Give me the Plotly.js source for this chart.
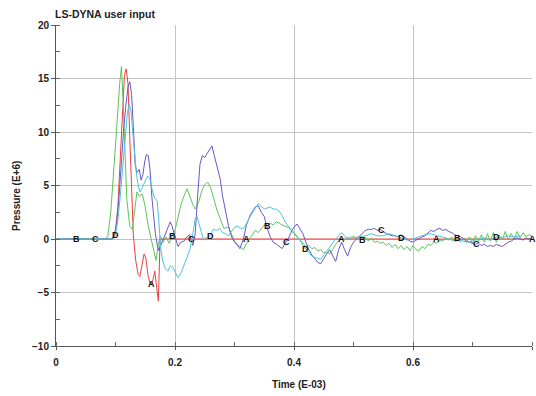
<!DOCTYPE html>
<html>
<head>
<meta charset="utf-8">
<script src="https://cdn.plot.ly/plotly-3.0.1.min.js"></script>
<style>html,body{margin:0;padding:0;background:#fff;}#chart{width:536px;height:396px;}</style>
</head>
<body>
<div id="chart"></div>
<script>
// Curve A (red)
const timeA = [0, 0.095, 0.1, 0.104, 0.108, 0.112, 0.115, 0.118, 0.121, 0.124, 0.127, 0.13, 0.134, 0.138, 0.141, 0.145, 0.148, 0.151, 0.155, 0.159, 0.163, 0.166, 0.169, 0.172, 0.175, 0.8];
const pressureA = [0, 0, 0.8, 3, 7.5, 12.5, 15.3, 15.9, 14.5, 9.5, 4, 0.3, -2.0, -3.3, -3.5, -2.2, -1.4, -1.8, -3.5, -4.3, -3.8, -3.0, -4.5, -5.8, 0, 0];

// Curve B (green)
const timeB = [0, 0.082, 0.087, 0.092, 0.096, 0.1, 0.104, 0.107, 0.11, 0.113, 0.116, 0.119, 0.124, 0.128, 0.132, 0.136, 0.14, 0.145, 0.15, 0.155, 0.16, 0.165, 0.168, 0.171, 0.175, 0.18, 0.185, 0.19, 0.195, 0.2, 0.205, 0.21, 0.215, 0.22, 0.225, 0.23, 0.234, 0.24, 0.245, 0.25, 0.255, 0.26, 0.265, 0.27, 0.276, 0.282, 0.29, 0.295, 0.3, 0.305, 0.31, 0.315, 0.32, 0.325, 0.33, 0.335, 0.34, 0.345, 0.35, 0.355, 0.36, 0.365, 0.37, 0.375, 0.38, 0.385, 0.39, 0.395, 0.4, 0.405, 0.41, 0.415, 0.42, 0.425, 0.43, 0.435, 0.44, 0.445, 0.45, 0.455, 0.46, 0.465, 0.47, 0.475, 0.48, 0.485, 0.49, 0.495, 0.5, 0.505, 0.51, 0.515, 0.52, 0.525, 0.53, 0.535, 0.54, 0.545, 0.55, 0.555, 0.56, 0.565, 0.57, 0.575, 0.58, 0.585, 0.59, 0.595, 0.6, 0.605, 0.61, 0.615, 0.62, 0.625, 0.63, 0.635, 0.64, 0.645, 0.65, 0.655, 0.66, 0.665, 0.67, 0.675, 0.68, 0.685, 0.69, 0.695, 0.7, 0.705, 0.71, 0.715, 0.72, 0.725, 0.73, 0.735, 0.74, 0.745, 0.75, 0.755, 0.76, 0.765, 0.77, 0.775, 0.78, 0.785, 0.79, 0.795, 0.8];
const pressureB = [0, 0, 0.2, 2.5, 5.6, 8.5, 12, 14.5, 16.1, 12.6, 7.9, 3.7, 1.2, 0.9, 2.5, 4.4, 4.0, 4.2, 3.0, 1.2, 0.0, -1.2, -2.0, -0.8, 0.3, -0.3, 0.2, -0.4, 0.3, 0.8, 2.0, 3.2, 4.0, 4.7, 4.0, 3.2, 2.8, 3.5, 4.5, 5.1, 5.3, 4.8, 3.8, 2.8, 1.9, 1.0, 1.1, 0.4, -0.2, -0.5, -0.8, -1.0, -0.4, 0.0, 0.5, 0.8, 0.6, 1.0, 1.3, 1.2, 1.5, 1.3, 1.6, 1.5, 1.3, 1.2, 1.1, 0.8, 0.5, 0.2, -0.2, -0.5, -0.7, -0.6, -0.9, -0.8, -1.1, -1.0, -1.3, -1.2, -1.4, -1.0, -0.5, -0.2, 0.1, -0.1, 0.2, -0.1, 0.3, 0.0, 0.2, -0.1, 0.2, -0.2, 0.1, -0.3, -0.2, -0.4, -0.3, -0.6, -0.4, -0.8, -0.5, -0.9, -0.6, -1.0, -0.7, -1.1, -0.6, -1.0, -1.1, -0.7, -0.9, -0.5, -0.6, -0.3, -0.4, -0.1, -0.2, 0.1, -0.1, 0.2, -0.2, 0.1, -0.3, 0.1, -0.3, 0.2, -0.4, 0.3, -0.2, 0.4, -0.3, 0.5, -0.2, 0.6, -0.3, 0.4, -0.1, 0.7, -0.1, 0.5, 0.0, 0.7, 0.1, 0.6, 0.2, 0.4, 0.3];

// Curve C (blue-violet)
const timeC = [0, 0.094, 0.098, 0.102, 0.106, 0.11, 0.114, 0.118, 0.121, 0.124, 0.127, 0.13, 0.133, 0.136, 0.14, 0.143, 0.146, 0.149, 0.152, 0.155, 0.158, 0.161, 0.164, 0.167, 0.17, 0.173, 0.176, 0.18, 0.184, 0.188, 0.192, 0.195, 0.2, 0.205, 0.21, 0.215, 0.22, 0.225, 0.23, 0.234, 0.238, 0.242, 0.246, 0.25, 0.254, 0.258, 0.262, 0.266, 0.27, 0.276, 0.28, 0.285, 0.29, 0.295, 0.3, 0.305, 0.309, 0.315, 0.32, 0.326, 0.33, 0.335, 0.34, 0.345, 0.35, 0.355, 0.36, 0.365, 0.371, 0.375, 0.38, 0.385, 0.39, 0.395, 0.4, 0.405, 0.41, 0.415, 0.42, 0.425, 0.43, 0.435, 0.44, 0.445, 0.45, 0.455, 0.46, 0.465, 0.47, 0.475, 0.48, 0.485, 0.49, 0.495, 0.5, 0.505, 0.51, 0.515, 0.52, 0.525, 0.53, 0.535, 0.54, 0.545, 0.55, 0.555, 0.56, 0.565, 0.57, 0.575, 0.58, 0.585, 0.59, 0.595, 0.6, 0.605, 0.61, 0.615, 0.62, 0.625, 0.63, 0.635, 0.64, 0.645, 0.65, 0.655, 0.66, 0.665, 0.67, 0.675, 0.68, 0.685, 0.69, 0.695, 0.7, 0.705, 0.71, 0.715, 0.72, 0.725, 0.73, 0.735, 0.74, 0.745, 0.75, 0.755, 0.76, 0.765, 0.77, 0.775, 0.78, 0.785, 0.79, 0.795, 0.8];
const pressureC = [0, 0, 0.3, 1.5, 4.0, 7.5, 10.5, 12.8, 14.2, 14.7, 13.5, 10.5, 7.0, 6.2, 6.5, 5.5, 6.0, 7.2, 7.9, 7.8, 6.5, 4.0, 2.0, 0.5, -0.5, -1.1, -0.6, 0.0, 0.6, 1.2, 1.6, 1.2, 0.3, -0.7, -0.3, -0.2, 0.2, 0.4, -0.6, 0.5, 4.0, 7.0, 7.8, 7.6, 8.0, 8.4, 8.7, 7.8, 6.8, 5.6, 4.0, 2.5, 1.2, 0.2, -0.3, -0.6, -0.9, 0.0, 1.3, 2.2, 2.6, 3.0, 3.1, 2.5, 2.1, 1.0, 0.2, -0.3, -0.5, -0.7, -0.9, -0.4, 0.0, 0.6, 1.1, 1.4, 1.0, 0.5, -0.3, -1.0, -1.5, -1.9, -2.2, -2.3, -1.8, -1.4, -1.0, -1.5, -2.1, -1.0, -0.3, -1.0, -1.6, -0.8, -0.3, 0.0, 0.3, 0.6, 0.8, 0.9, 0.9, 1.0, 0.8, 0.9, 0.7, 0.5, 0.4, 0.3, 0.3, 0.2, 0.4, 0.2, 0.0, -0.2, -0.3, -0.1, 0.0, 0.2, 0.3, 0.6, 0.8, 0.7, 0.9, 1.0, 0.8, 0.9, 0.7, 0.6, 0.4, 0.3, 0.2, 0.0, -0.2, -0.3, -0.4, -0.5, -0.4, -0.6, -0.5, -0.7, -0.6, -0.7, -0.5, -0.6, -0.7, -0.5, -0.3, -0.2, 0.0, 0.1, 0.0, -0.1, 0.1, 0.0, 0.1];

// Curve D (cyan)
const timeD = [0, 0.096, 0.1, 0.104, 0.108, 0.112, 0.116, 0.12, 0.123, 0.126, 0.129, 0.132, 0.135, 0.138, 0.141, 0.145, 0.15, 0.154, 0.158, 0.162, 0.166, 0.17, 0.173, 0.176, 0.18, 0.184, 0.188, 0.192, 0.196, 0.2, 0.205, 0.21, 0.215, 0.22, 0.225, 0.23, 0.234, 0.237, 0.24, 0.244, 0.248, 0.252, 0.256, 0.26, 0.264, 0.27, 0.275, 0.28, 0.285, 0.29, 0.295, 0.3, 0.305, 0.31, 0.315, 0.32, 0.325, 0.33, 0.335, 0.34, 0.345, 0.35, 0.355, 0.36, 0.365, 0.37, 0.375, 0.38, 0.385, 0.39, 0.395, 0.4, 0.405, 0.41, 0.415, 0.42, 0.425, 0.43, 0.435, 0.44, 0.445, 0.45, 0.455, 0.46, 0.465, 0.47, 0.475, 0.48, 0.485, 0.49, 0.495, 0.5, 0.51, 0.52, 0.53, 0.54, 0.55, 0.56, 0.57, 0.58, 0.59, 0.6, 0.61, 0.62, 0.63, 0.64, 0.65, 0.66, 0.67, 0.68, 0.69, 0.7, 0.71, 0.72, 0.73, 0.74, 0.75, 0.76, 0.77, 0.78, 0.79, 0.8];
const pressureD = [0, 0, 0.4, 1.8, 4.0, 6.8, 9.5, 11.8, 12.6, 12.0, 10.0, 8.0, 6.2, 5.0, 4.4, 4.8, 5.5, 5.9, 5.6, 4.5, 3.8, 3.6, 1.5, -0.9, -2.2, -2.8, -3.0, -2.5, -2.6, -3.0, -3.6, -3.2, -2.5, -1.8, -1.0, 0.5, 1.9, 2.1, 1.5, 0.5, -0.1, 0.1, 0.2, 0.3, 0.9, 0.8, 1.0, 0.6, 0.5, 0.3, 0.7, 1.1, 1.2, 1.0, 1.0, 1.4, 2.0, 2.5, 2.9, 3.3, 3.0, 2.8, 2.9, 3.0, 2.8, 2.8, 2.6, 2.2, 1.6, 1.2, 0.9, 0.6, 0.3, -0.1, -0.6, -0.9, -1.2, -1.6, -1.7, -1.8, -1.9, -1.5, -1.1, -0.7, -0.3, 0.0, 0.3, 0.6, 0.3, 0.0, 0.2, 0.1, 0.2, 0.3, 0.5, 0.3, 0.3, 0.5, 0.3, 0.1, -0.1, 0.0, 0.2, 0.4, 0.5, 0.3, 0.2, 0.0, -0.2, -0.1, -0.3, -0.2, 0.0, 0.1, -0.1, 0.2, 0.1, 0.3, 0.2, 0.3];

// Curve label positions (time)
const labelTimesA = [0.16, 0.32, 0.48, 0.64, 0.8];
const labelTimesB = [0.035, 0.195, 0.355, 0.515, 0.675];
const labelTimesC = [0.067, 0.227, 0.387, 0.547, 0.707];
const labelTimesD = [0.1, 0.26, 0.42, 0.58, 0.74];

const yTicks = [-10, -5, 0, 5, 10, 15, 20];
const xTicks = [0, 0.2, 0.4, 0.6, 0.8];
const xTickText = ['0', '0.2', '0.4', '0.6', '0.8'];

function interp(xs, ys, x) {
  for (let i = 0; i < xs.length - 1; i++) {
    if (x >= xs[i] && x <= xs[i + 1]) {
      const t = (x - xs[i]) / (xs[i + 1] - xs[i]);
      return ys[i] + t * (ys[i + 1] - ys[i]);
    }
  }
  return ys[ys.length - 1];
}

const series = [
  {name: 'A', x: timeA, y: pressureA, color: '#ee3f3f', labels: labelTimesA},
  {name: 'B', x: timeB, y: pressureB, color: '#5ec45a', labels: labelTimesB},
  {name: 'C', x: timeC, y: pressureC, color: '#6658c8', labels: labelTimesC},
  {name: 'D', x: timeD, y: pressureD, color: '#4cc4da', labels: labelTimesD}
];

const traces = series.map(s => ({
  type: 'scatter', mode: 'lines', name: s.name, x: s.x, y: s.y,
  line: {color: s.color, width: 1}, hoverinfo: 'skip'
}));

const fontBase = {family: 'Liberation Sans, Arial, sans-serif', color: '#222', weight: 700};

const annotations = [];
series.forEach(s => {
  s.labels.forEach(t => {
    annotations.push({
      x: t, y: interp(s.x, s.y, t), xref: 'x', yref: 'y', text: s.name,
      showarrow: false, xanchor: 'center', yanchor: 'middle',
      font: {family: 'Liberation Sans, Arial, sans-serif', size: 9, color: '#111', weight: 700}
    });
  });
});
annotations.push({
  text: 'Pressure (E+6)', xref: 'paper', yref: 'paper',
  x: (17 - 56) / 476, y: (346 - 196) / 321, xanchor: 'center', yanchor: 'middle',
  textangle: -90, showarrow: false, font: Object.assign({size: 10}, fontBase)
});
annotations.push({
  text: 'Time (E-03)', xref: 'paper', yref: 'paper',
  x: (299 - 56) / 476, y: (346 - 384) / 321, xanchor: 'center', yanchor: 'middle',
  showarrow: false, font: Object.assign({size: 10}, fontBase)
});

const layout = {
  width: 536, height: 396,
  margin: {l: 56, r: 4, t: 25, b: 50},
  paper_bgcolor: '#fff', plot_bgcolor: '#fff',
  showlegend: false,
  title: {text: 'LS-DYNA user input', x: 55 / 536, xanchor: 'left', xref: 'container',
          y: 1 - 14 / 396, yanchor: 'middle', yref: 'container',
          font: Object.assign({size: 10.5}, fontBase)},
  xaxis: {
    range: [0, 0.8], tickvals: xTicks, ticktext: xTickText,
    showgrid: true, gridcolor: '#c4c4c4', gridwidth: 1, zeroline: false,
    showline: true, linecolor: '#555', linewidth: 1,
    ticks: 'outside', ticklen: 3, tickcolor: '#555', ticklabelstandoff: 4,
    minor: {dtick: 0.1, tick0: 0, ticks: 'inside', ticklen: 4, tickcolor: '#666', showgrid: false},
    tickfont: Object.assign({size: 10}, fontBase),
    automargin: false
  },
  yaxis: {
    range: [-10, 20], tickvals: yTicks,
    showgrid: true, gridcolor: '#c4c4c4', gridwidth: 1, zeroline: false,
    showline: true, linecolor: '#555', linewidth: 1,
    ticks: 'outside', ticklen: 4, tickcolor: '#555',
    minor: {dtick: 2.5, tick0: 0, ticks: 'inside', ticklen: 4, tickcolor: '#666', showgrid: false},
    tickfont: Object.assign({size: 10}, fontBase),
    automargin: false
  },
  annotations: annotations
};

Plotly.newPlot('chart', traces, layout, {staticPlot: true, displayModeBar: false});
</script>
</body>
</html>
